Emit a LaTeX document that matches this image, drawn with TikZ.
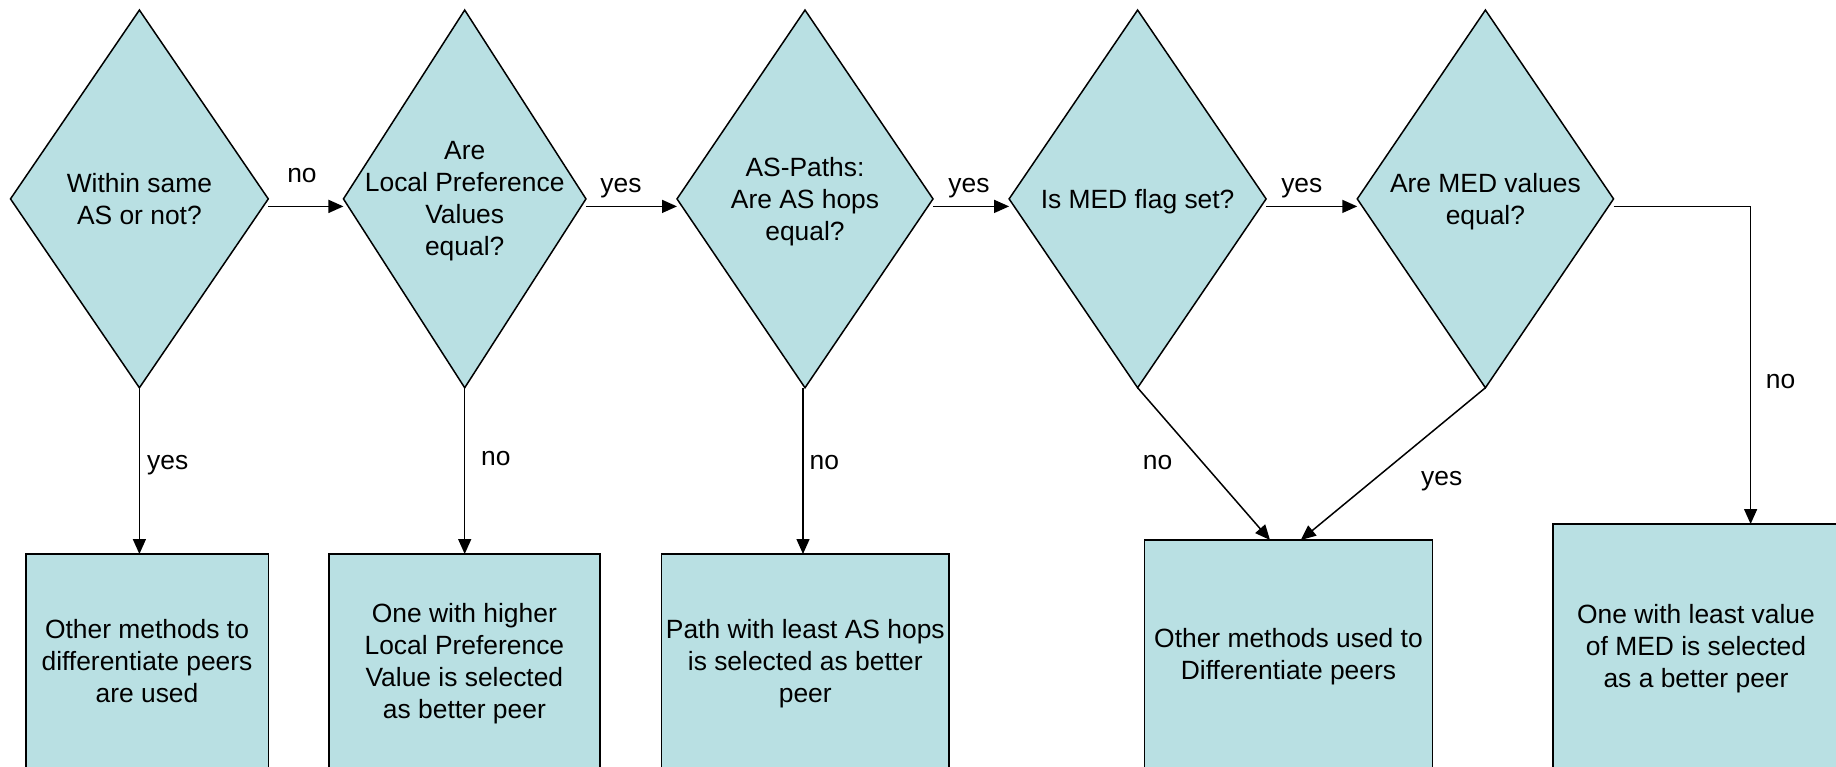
\documentclass[tikz,border=0pt]{standalone}
\usepackage{fontspec}
\setmainfont{Liberation Sans}
\usetikzlibrary{arrows.meta,shapes.geometric}
\definecolor{fillblue}{RGB}{185,224,227}
\begin{document}
\begin{tikzpicture}[x=1pt,y=-1pt,
  nodes={font=\fontsize{26.4}{32}\selectfont},
  dia/.style={diamond, draw=black, fill=fillblue, line width=1.5pt, inner sep=0pt, outer sep=0pt, minimum height=377.7pt},
  dtext/.style={align=center, inner sep=0pt, text depth=0pt},
  box/.style={rectangle, draw=black, fill=fillblue, line width=1.5pt, inner sep=0pt, outer sep=0pt, align=center, text depth=0pt},
  lbl/.style={inner sep=0pt},
  arr/.style={line width=1.5pt, -{Triangle[length=15pt,width=13pt]}}
]
\useasboundingbox (0,0) rectangle (1836,766);
\clip (0,0) rectangle (1836,766);

% decisions
\node[dia, minimum width=257.8pt] (d1) at (139.4,198.9) {};
\node[dia, minimum width=242.5pt] (d2) at (464.7,198.9) {};
\node[dia, minimum width=256pt]   (d3) at (805,198.9) {};
\node[dia, minimum width=257pt]   (d4) at (1137.6,198.9) {};
\node[dia, minimum width=256.3pt] (d5) at (1485.4,198.9) {};

\node[dtext] (t1) at (d1) {Within same\\AS or not?};
\node[dtext] (t2) at (d2) {Are\\Local Preference\\Values\\equal?};
\node[dtext] (t3) at (d3) {AS-Paths:\\Are AS hops\\equal?};
\node[dtext] (t4) at (d4) {Is MED flag set?};
\node[dtext] (t5) at (d5) {Are MED values\\equal?};

% outcomes
\node[box, minimum width=242.5pt, minimum height=214pt] (b1) at (147,661)
  {Other methods to\\differentiate peers\\are used};
\node[box, minimum width=271.2pt, minimum height=214pt] (b2) at (464.4,661)
  {One with higher\\Local Preference\\Value is selected\\as better peer};
\node[box, minimum width=287.8pt, minimum height=214pt] (b3) at (805.3,661)
  {Path with least AS hops\\is selected as better\\peer};
\node[box, minimum width=288.2pt, minimum height=228pt] (b4) at (1288.5,654)
  {Other methods used to\\Differentiate peers};
\node[box, minimum width=285.7pt, minimum height=244pt] (b5) at (1696,646)
  {One with least value\\of MED is selected\\as a better peer};

% connectors
\draw[arr] ([yshift=-7.5pt]d1.east) -- ([yshift=-7.5pt]d2.west);
\draw[arr] ([yshift=-7.5pt]d2.east) -- ([yshift=-7.5pt]d3.west);
\draw[arr] ([yshift=-7.5pt]d3.east) -- ([yshift=-7.5pt]d4.west);
\draw[arr] ([yshift=-7.5pt]d4.east) -- ([yshift=-7.5pt]d5.west);
\draw[arr] (d1.south) -- (d1.south |- b1.north);
\draw[arr] (d2.south) -- (d2.south |- b2.north);
\draw[arr] ([xshift=-2pt]d3.south) -- ([xshift=-2pt]d3.south |- b3.north);
\draw[arr] (d4.south) -- ([xshift=-18.5pt]b4.north);
\draw[arr] (d5.south) -- ([xshift=12.3pt]b4.north);
\draw[arr] ([yshift=-7.5pt]d5.east) -| ([xshift=54.6pt]b5.north);

% labels
\node[lbl, anchor=base] (l1) at (302,182) {no};
\node[lbl, anchor=base] (l2) at (621,192) {yes};
\node[lbl, anchor=base] (l3) at (969,192) {yes};
\node[lbl, anchor=base] (l4) at (1301.8,192) {yes};
\node[lbl, anchor=base west] (l5) at (147,469) {yes};
\node[lbl, anchor=base west] (l6) at (481,465) {no};
\node[lbl, anchor=base west] (l7) at (809.5,469) {no};
\node[lbl, anchor=base west] (l8) at (1142.7,469) {no};
\node[lbl, anchor=base west] (l9) at (1421,485) {yes};
\node[lbl, anchor=base west] (l10) at (1765.7,388) {no};
\end{tikzpicture}
\end{document}
